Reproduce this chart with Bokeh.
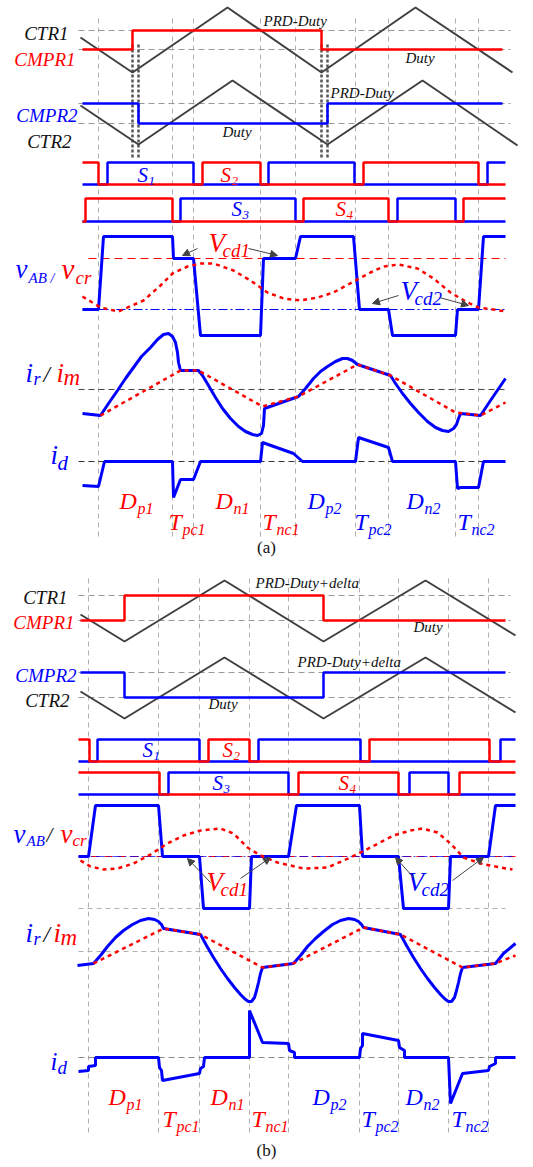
from bokeh.plotting import figure
from bokeh.models import ColumnDataSource, Range1d, Arrow, NormalHead
from bokeh.core.properties import value
from bokeh.embed import file_html
from bokeh.resources import INLINE

# ---------------------------------------------------------------- data
# time axis is the horizontal diagram unit, levels are the vertical diagram unit
GRID_A = [98, 172, 193, 260, 295, 355, 388, 455, 478]
GRID_B = [88, 158, 199, 249, 288, 359, 398, 448, 488]

# ---- panel (a) carriers / compare values
CTR1_A_T = [80, 132, 227, 321, 415, 512]
CTR1_A_V = [37, 72, 7, 72, 7, 72]
CMPR1_A_T = [82, 132, 132, 321, 321, 502]
CMPR1_A_V = [49, 49, 30, 30, 49, 49]
CMPR2_A_T = [82, 138, 138, 327, 327, 502]
CMPR2_A_V = [103, 103, 123, 123, 103, 103]
CTR2_A_T = [80, 138, 232, 327, 422, 517]
CTR2_A_V = [105, 144, 80, 144, 80, 145]
REF_A_V = [30, 49, 103, 123]
SYNC_A_T = [132, 138, 321, 327]

# ---- panel (a) gate signals: edge times, initial state
S2_A_EDGES, S2_A_START = [98, 202, 260, 363, 478], 1
S1_A_EDGES, S1_A_START = [107, 193, 268, 354, 487], 0
S4_A_EDGES, S4_A_START = [85, 172, 303, 388, 463], 0
S3_A_EDGES, S3_A_START = [180, 295, 397, 455], 0

# ---- panel (a) vAB / vcr
VAB_A_T = [82, 98, 103, 172, 173, 193, 200, 260, 263, 295, 300, 353, 359, 388, 392, 455, 457, 478, 483, 505]
VAB_A_V = [309, 309, 236, 236, 258, 258, 335, 335, 258, 258, 236, 236, 309, 309, 335, 335, 309, 309, 236, 236]
VCR_A_T = [82, 100, 118, 143, 160, 172, 187, 200, 213, 233, 250, 267, 283, 300, 317, 333, 355, 370, 383, 398, 417, 433, 450, 467, 478, 493, 505]
VCR_A_V = [296, 307, 311, 300, 285, 273, 266, 263, 263, 270, 280, 292, 298, 300, 297, 292, 280, 272, 266, 264, 268, 278, 292, 302, 307, 309, 311]
VCD_A_V = 258
ZERO_A_V = 309

# ---- panel (a) ir / im
IR_A_T = [82, 100, 108, 117, 125, 133, 141, 150, 157, 163, 168, 172, 175, 177, 178, 180, 198, 202, 208, 215, 222, 230, 238, 245, 252, 257, 261, 263, 264,
          298, 305, 313, 320, 327, 335, 342, 347, 352, 357, 390, 395, 402, 410, 418, 427, 435, 442, 448, 453, 456, 458, 460, 480, 490, 505]
IR_A_V = [413, 415, 403, 390, 378, 367, 356, 347, 339, 334, 333, 336, 342, 352, 362, 370, 370, 375, 385, 397, 408, 418, 426, 431, 434, 435, 433, 425, 408,
          396, 388, 378, 371, 366, 361, 358, 358, 360, 364, 375, 383, 393, 403, 412, 421, 427, 430, 431, 428, 424, 418, 413, 415, 400, 378]
IM_A_T = [100, 180, 198, 262, 298, 357, 390, 455, 480, 505]
IM_A_V = [415, 370, 370, 406, 396, 364, 375, 412, 415, 402]
IR0_A_V = 389

# ---- panel (a) id
ID_A_T = [82, 98, 104, 172, 173, 180, 193, 200, 260, 262, 293, 302, 355, 358, 388, 392, 455, 457, 460, 478, 483, 505]
ID_A_V = [485, 486, 461, 461, 497, 479, 479, 461, 461, 442, 453, 461, 461, 437, 447, 461, 461, 488, 487, 487, 461, 461]
ID0_A_V = 461

# ---- panel (b) carriers / compare values
CTR1_B_T = [80, 124, 224, 323, 425, 515]
CTR1_B_V = [614, 641, 580, 641, 580, 635]
CMPR1_B_T = [80, 124, 124, 323, 323, 505]
CMPR1_B_V = [620, 620, 595, 595, 620, 620]
CMPR2_B_T = [80, 124, 124, 323, 323, 505]
CMPR2_B_V = [672, 672, 697, 697, 672, 672]
CTR2_B_T = [80, 124, 224, 323, 425, 515]
CTR2_B_V = [691, 718, 657, 718, 657, 712]
REF_B_V = [595, 620, 672, 697]

# ---- panel (b) gate signals
S2_B_EDGES, S2_B_START = [89, 208, 249, 369, 489], 1
S1_B_EDGES, S1_B_START = [97, 199, 258, 360, 500], 0
S4_B_EDGES, S4_B_START = [159, 298, 398, 459], 1
S3_B_EDGES, S3_B_START = [168, 288, 409, 448], 0

# ---- panel (b) vAB / vcr
VAB_B_T = [78, 88, 95, 158, 162, 199, 203, 249, 251, 288, 296, 359, 362, 398, 403, 448, 450, 488, 495, 515]
VAB_B_V = [856, 856, 805, 805, 856, 856, 908, 908, 856, 856, 805, 805, 856, 856, 908, 908, 856, 856, 805, 805]
VCR_B_T = [80, 90, 103, 117, 133, 150, 167, 183, 200, 220, 233, 247, 260, 277, 303, 327, 350, 370, 393, 410, 422, 437, 450, 463, 480, 500, 512]
VCR_B_V = [860, 866, 869, 868, 863, 854, 843, 835, 830, 828, 833, 847, 855, 862, 868, 867, 857, 847, 835, 830, 828, 832, 843, 857, 863, 867, 869]
ZERO_B_V = 856
NEG_B_V = 908

# ---- panel (b) ir / im
IR_B_T = [77, 93, 100, 107, 115, 123, 132, 140, 148, 154, 158, 161, 163, 200, 206, 213, 220, 227, 234, 240, 245, 248, 251, 254, 256, 258, 260, 262,
          293, 300, 307, 315, 323, 332, 340, 348, 354, 358, 361, 363, 400, 406, 413, 420, 427, 434, 440, 445, 448, 451, 454, 456, 458, 460, 462, 495, 503, 515]
IR_B_V = [965, 963, 955, 946, 937, 930, 924, 920, 918, 919, 921, 924, 928, 934, 945, 957, 968, 978, 987, 994, 999, 1001, 1001, 997, 990, 982, 973, 967,
          963, 955, 946, 938, 931, 924, 920, 918, 919, 921, 924, 927, 934, 945, 957, 968, 978, 987, 994, 999, 1001, 1001, 997, 990, 982, 973, 967, 963, 953, 943]
IM_B_T = [93, 163, 200, 262, 293, 363, 400, 462, 495, 515]
IM_B_V = [963, 928, 934, 967, 963, 927, 934, 967, 963, 955]
IR0_B_V = 951

# ---- panel (b) id
ID_B_T = [78, 88, 88, 95, 95, 158, 159, 161, 162, 199, 200, 203, 204, 249, 249, 262, 288, 289, 294, 294, 359, 360, 362, 362, 398, 399, 404, 404, 448, 449, 450, 462, 488, 489, 495, 495, 515]
ID_B_V = [1071, 1070, 1066, 1065, 1057, 1057, 1067, 1070, 1080, 1073, 1068, 1066, 1057, 1057, 1010, 1042, 1043, 1050, 1052, 1057, 1057, 1048, 1045, 1033, 1040, 1047, 1050, 1057, 1057, 1080, 1103, 1073, 1070, 1066, 1063, 1057, 1057]
ID0_B_V = 1057

# ---- annotation arrows (Vcd pointers)
ARR_X0 = [197, 248, 398, 439, 210, 240, 413, 452]
ARR_Y0 = [248, 248, 295, 297, 882, 878, 877, 880]
ARR_X1 = [182, 277, 372, 468, 187, 270, 395, 483]
ARR_Y1 = [255, 255, 303, 305, 858, 857, 857, 857]

# ---- texts: (text, x, baseline, colour, size px, style, align)
RED = "#ff0000"
BLUE = "#0000ff"
BLK = "#111111"
LABELS = [
    # panel (a)
    ("CTR1", 68, 39, BLK, 19, "italic", "right"),
    ("CMPR1", 75, 65, RED, 19, "italic", "right"),
    ("CMPR2", 77, 121, BLUE, 19, "italic", "right"),
    ("CTR2", 71, 147, BLK, 19, "italic", "right"),
    ("PRD-Duty", 263, 26, BLK, 15, "italic", "left"),
    ("Duty", 405, 63, BLK, 15, "italic", "left"),
    ("PRD-Duty", 330, 98, BLK, 15, "italic", "left"),
    ("Duty", 222, 137, BLK, 15, "italic", "left"),
    ("S", 137, 182, BLUE, 21, "italic", "left"), ("1", 148, 185, BLUE, 13, "italic", "left"),
    ("S", 220, 182, RED, 21, "italic", "left"), ("2", 231, 185, RED, 13, "italic", "left"),
    ("S", 231, 216, BLUE, 21, "italic", "left"), ("3", 242, 219, BLUE, 13, "italic", "left"),
    ("S", 335, 216, RED, 21, "italic", "left"), ("4", 346, 219, RED, 13, "italic", "left"),
    ("v", 15, 278, BLUE, 27, "italic", "left"), ("AB", 28, 283, BLUE, 15, "italic", "left"),
    ("/", 50, 283, BLUE, 14, "italic", "left"),
    ("v", 61, 278, RED, 29, "italic", "left"), ("cr", 75, 283, RED, 19, "italic", "left"),
    ("i", 25, 382, BLUE, 27, "italic", "left"), ("r", 33, 385, BLUE, 18, "italic", "left"),
    ("/", 43, 382, BLK, 23, "italic", "left"),
    ("i", 56, 382, RED, 27, "italic", "left"), ("m", 63, 385, RED, 23, "italic", "left"),
    ("i", 50, 464, BLUE, 27, "italic", "left"), ("d", 57, 470, BLUE, 21, "italic", "left"),
    ("V", 208, 252, RED, 27, "italic", "left"), ("cd1", 222, 256, RED, 19, "italic", "left"),
    ("V", 400, 300, BLUE, 27, "italic", "left"), ("cd2", 414, 304, BLUE, 19, "italic", "left"),
    ("D", 119, 509, RED, 24, "italic", "left"), ("p1", 137, 513, RED, 16, "italic", "left"),
    ("T", 168, 530, RED, 24, "italic", "left"), ("pc1", 182, 534, RED, 16, "italic", "left"),
    ("D", 215, 509, RED, 24, "italic", "left"), ("n1", 233, 513, RED, 16, "italic", "left"),
    ("T", 262, 530, RED, 24, "italic", "left"), ("nc1", 276, 534, RED, 16, "italic", "left"),
    ("D", 307, 509, BLUE, 24, "italic", "left"), ("p2", 325, 513, BLUE, 16, "italic", "left"),
    ("T", 354, 530, BLUE, 24, "italic", "left"), ("pc2", 368, 534, BLUE, 16, "italic", "left"),
    ("D", 406, 509, BLUE, 24, "italic", "left"), ("n2", 424, 513, BLUE, 16, "italic", "left"),
    ("T", 457, 530, BLUE, 24, "italic", "left"), ("nc2", 471, 534, BLUE, 16, "italic", "left"),
    ("(a)", 266, 553, BLK, 17, "normal", "center"),
    # panel (b)
    ("CTR1", 67, 603, BLK, 19, "italic", "right"),
    ("CMPR1", 74, 628, RED, 19, "italic", "right"),
    ("CMPR2", 76, 681, BLUE, 19, "italic", "right"),
    ("CTR2", 69, 706, BLK, 19, "italic", "right"),
    ("PRD-Duty+delta", 255, 588, BLK, 15, "italic", "left"),
    ("Duty", 413, 632, BLK, 15, "italic", "left"),
    ("PRD-Duty+delta", 297, 667, BLK, 15, "italic", "left"),
    ("Duty", 208, 709, BLK, 15, "italic", "left"),
    ("S", 142, 757, BLUE, 21, "italic", "left"), ("1", 153, 760, BLUE, 13, "italic", "left"),
    ("S", 222, 757, RED, 21, "italic", "left"), ("2", 233, 760, RED, 13, "italic", "left"),
    ("S", 212, 790, BLUE, 21, "italic", "left"), ("3", 223, 793, BLUE, 13, "italic", "left"),
    ("S", 338, 790, RED, 21, "italic", "left"), ("4", 349, 793, RED, 13, "italic", "left"),
    ("v", 13, 843, BLUE, 27, "italic", "left"), ("AB", 26, 846, BLUE, 15, "italic", "left"),
    ("/", 46, 842, BLK, 21, "italic", "left"),
    ("v", 60, 843, RED, 27, "italic", "left"), ("cr", 72, 846, RED, 17, "italic", "left"),
    ("i", 25, 942, BLUE, 27, "italic", "left"), ("r", 33, 945, BLUE, 18, "italic", "left"),
    ("/", 43, 942, BLK, 23, "italic", "left"),
    ("i", 53, 942, RED, 27, "italic", "left"), ("m", 60, 945, RED, 23, "italic", "left"),
    ("i", 50, 1069, BLUE, 25, "italic", "left"), ("d", 57, 1073, BLUE, 19, "italic", "left"),
    ("V", 206, 891, RED, 27, "italic", "left"), ("cd1", 220, 895, RED, 19, "italic", "left"),
    ("V", 407, 891, BLUE, 27, "italic", "left"), ("cd2", 421, 895, BLUE, 19, "italic", "left"),
    ("D", 108, 1105, RED, 24, "italic", "left"), ("p1", 126, 1109, RED, 16, "italic", "left"),
    ("T", 162, 1127, RED, 24, "italic", "left"), ("pc1", 176, 1131, RED, 16, "italic", "left"),
    ("D", 210, 1105, RED, 24, "italic", "left"), ("n1", 228, 1109, RED, 16, "italic", "left"),
    ("T", 251, 1127, RED, 24, "italic", "left"), ("nc1", 265, 1131, RED, 16, "italic", "left"),
    ("D", 312, 1105, BLUE, 24, "italic", "left"), ("p2", 330, 1109, BLUE, 16, "italic", "left"),
    ("T", 361, 1127, BLUE, 24, "italic", "left"), ("pc2", 375, 1131, BLUE, 16, "italic", "left"),
    ("D", 405, 1105, BLUE, 24, "italic", "left"), ("n2", 423, 1109, BLUE, 16, "italic", "left"),
    ("T", 451, 1127, BLUE, 24, "italic", "left"), ("nc2", 465, 1131, BLUE, 16, "italic", "left"),
    ("(b)", 266, 1156, BLK, 17, "normal", "center"),
]

# ---------------------------------------------------------------- figure
DARK = "#404040"
GRIDC = "#b0b0b0"
FONT = value("Liberation Serif")
MID = 0.34  # distance from alphabetic baseline to the em-box middle, in em

p = figure(width=533, height=1167, x_range=Range1d(0, 533), y_range=Range1d(1167, 0),
           output_backend="svg", toolbar_location=None, min_border=0,
           x_axis_location=None, y_axis_location=None)
p.xgrid.visible = False
p.ygrid.visible = False
p.outline_line_color = None
p.background_fill_color = "white"


def steps(t0, t1, edges, start, hi, lo):
    state = start
    xs, ys = [t0], [hi if state else lo]
    for e in edges:
        xs += [e, e]
        ys += [hi if state else lo, lo if state else hi]
        state = 1 - state
    xs.append(t1)
    ys.append(hi if state else lo)
    return xs, ys


# vertical time grid
p.segment(x0=GRID_A, y0=[18] * len(GRID_A), x1=GRID_A, y1=[540] * len(GRID_A),
          line_color=GRIDC, line_width=1, line_dash="5 4")
p.segment(x0=GRID_B, y0=[578] * len(GRID_B), x1=GRID_B, y1=[1132] * len(GRID_B),
          line_color=GRIDC, line_width=1, line_dash="5 4")

# ---- panel (a) carriers
p.segment(x0=[78] * 4, y0=REF_A_V, x1=[510] * 4, y1=REF_A_V, line_color="#999999", line_width=1, line_dash="6 4")
p.segment(x0=SYNC_A_T, y0=[44] * 4, x1=SYNC_A_T, y1=[157] * 4, line_color="#555555", line_width=2.5, line_dash="3 2")
p.line(CTR1_A_T, CTR1_A_V, line_color=DARK, line_width=2)
p.line(CTR2_A_T, CTR2_A_V, line_color=DARK, line_width=2)
p.line(CMPR1_A_T, CMPR1_A_V, line_color=RED, line_width=2.5)
p.line(CMPR2_A_T, CMPR2_A_V, line_color=BLUE, line_width=2.5)

# ---- gates
for (edges, start, col, hi, lo, t0, t1) in [
    (S1_A_EDGES, S1_A_START, BLUE, 162, 184, 82, 505),
    (S2_A_EDGES, S2_A_START, RED, 162, 184, 82, 505),
    (S3_A_EDGES, S3_A_START, BLUE, 198, 221, 82, 505),
    (S4_A_EDGES, S4_A_START, RED, 198, 221, 82, 505),
    (S1_B_EDGES, S1_B_START, BLUE, 739, 761, 78, 515),
    (S2_B_EDGES, S2_B_START, RED, 739, 761, 78, 515),
    (S3_B_EDGES, S3_B_START, BLUE, 772, 794, 78, 515),
    (S4_B_EDGES, S4_B_START, RED, 772, 794, 78, 515),
]:
    xs, ys = steps(t0, t1, edges, start, hi, lo)
    p.line(xs, ys, line_color=col, line_width=2.5)

# ---- panel (a) vAB / vcr
p.segment(x0=[88], y0=[VCD_A_V], x1=[505], y1=[VCD_A_V], line_color=RED, line_width=1, line_dash="8 5")
p.segment(x0=[82], y0=[ZERO_A_V], x1=[505], y1=[ZERO_A_V], line_color=BLUE, line_width=1.2, line_dash="9 3 2 3")
p.line(VAB_A_T, VAB_A_V, line_color=BLUE, line_width=3)
p.line(VCR_A_T, VCR_A_V, line_color=RED, line_width=2.5, line_dash="4 4")

# ---- panel (a) ir / im
p.segment(x0=[78], y0=[IR0_A_V], x1=[505], y1=[IR0_A_V], line_color="#444444", line_width=1, line_dash="6 4")
p.line(IR_A_T, IR_A_V, line_color=BLUE, line_width=3)
p.line(IM_A_T, IM_A_V, line_color=RED, line_width=2.5, line_dash="4 4")

# ---- panel (a) id
p.segment(x0=[78], y0=[ID0_A_V], x1=[505], y1=[ID0_A_V], line_color="#333333", line_width=1, line_dash="6 4")
p.line(ID_A_T, ID_A_V, line_color=BLUE, line_width=3)

# ---- panel (b) carriers
p.segment(x0=[78] * 4, y0=REF_B_V, x1=[510] * 4, y1=REF_B_V, line_color="#999999", line_width=1, line_dash="6 4")
p.line(CTR1_B_T, CTR1_B_V, line_color=DARK, line_width=2)
p.line(CTR2_B_T, CTR2_B_V, line_color=DARK, line_width=2)
p.line(CMPR1_B_T, CMPR1_B_V, line_color=RED, line_width=2.5)
p.line(CMPR2_B_T, CMPR2_B_V, line_color=BLUE, line_width=2.5)

# ---- panel (b) vAB / vcr
p.segment(x0=[78], y0=[NEG_B_V], x1=[505], y1=[NEG_B_V], line_color=GRIDC, line_width=1, line_dash="5 4")
p.segment(x0=[78], y0=[ZERO_B_V], x1=[515], y1=[ZERO_B_V], line_color=RED, line_width=1.2, line_dash="8 5")
p.segment(x0=[78], y0=[ZERO_B_V], x1=[515], y1=[ZERO_B_V], line_color=BLUE, line_width=1.2, line_dash="9 3 2 3", line_alpha=0.7)
p.line(VAB_B_T, VAB_B_V, line_color=BLUE, line_width=3)
p.line(VCR_B_T, VCR_B_V, line_color=RED, line_width=2.5, line_dash="4 4")

# ---- panel (b) ir / im
p.segment(x0=[78], y0=[IR0_B_V], x1=[505], y1=[IR0_B_V], line_color=GRIDC, line_width=1, line_dash="5 4")
p.line(IR_B_T, IR_B_V, line_color=BLUE, line_width=3)
p.line(IM_B_T, IM_B_V, line_color=RED, line_width=2.5, line_dash="4 4")

# ---- panel (b) id
p.segment(x0=[78], y0=[ID0_B_V], x1=[515], y1=[ID0_B_V], line_color="#888888", line_width=1, line_dash="6 4")
p.line(ID_B_T, ID_B_V, line_color=BLUE, line_width=3)

# ---- arrows
arr_src = ColumnDataSource(dict(x0=ARR_X0, y0=ARR_Y0, x1=ARR_X1, y1=ARR_Y1))
p.add_layout(Arrow(source=arr_src, x_start="x0", y_start="y0", x_end="x1", y_end="y1",
                   line_color="#444444", line_width=1,
                   end=NormalHead(size=7, fill_color="#444444", line_color="#444444")))

# ---- texts (placed by the em-box middle)
lab_src = ColumnDataSource(dict(
    x=[l[1] for l in LABELS], y=[l[2] - MID * l[4] for l in LABELS], text=[l[0] for l in LABELS],
    color=[l[3] for l in LABELS], size=["%dpx" % l[4] for l in LABELS],
    style=[l[5] for l in LABELS], align_col=[l[6] for l in LABELS]))
p.text(x="x", y="y", text="text", source=lab_src, text_font=FONT, text_font_size="size",
       text_color="color", text_font_style="style", text_align="align_col",
       text_baseline=value("middle"))

open("out.html", "w").write(file_html(p, INLINE))
